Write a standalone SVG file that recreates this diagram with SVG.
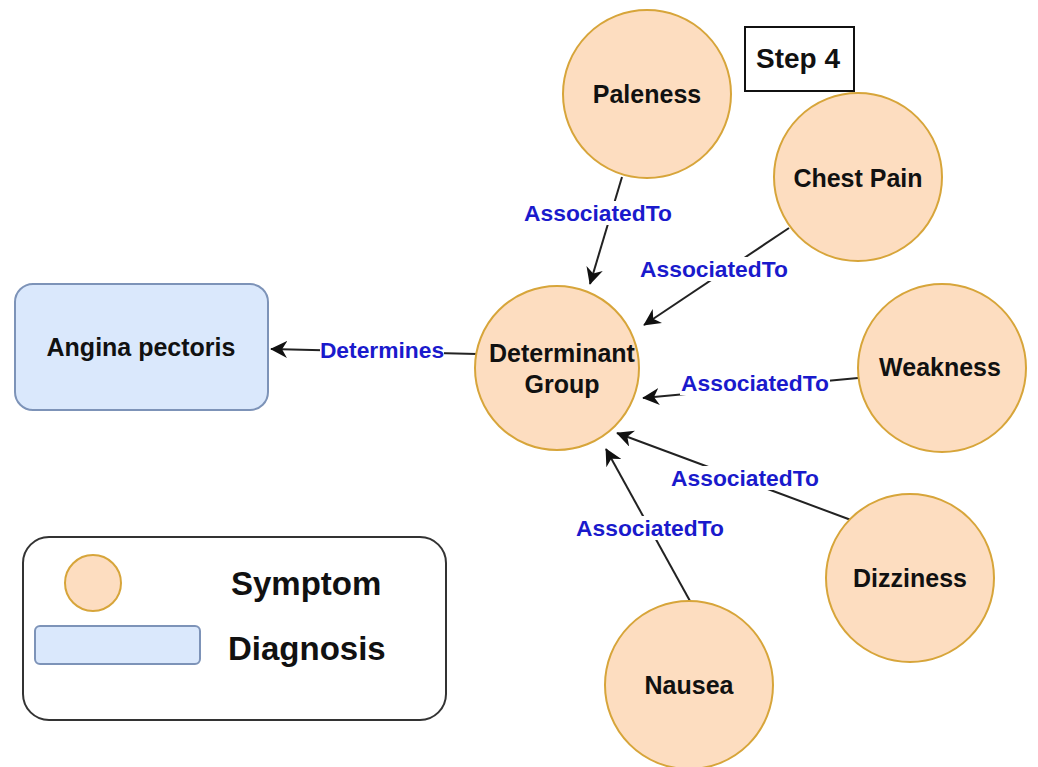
<svg xmlns="http://www.w3.org/2000/svg" width="1038" height="767" viewBox="0 0 1038 767">
  <style>
    .sym { fill: #fdddc0; stroke: #d7a53a; stroke-width: 2; }
    .diag { fill: #dae8fc; stroke: #7d93b8; stroke-width: 2; }
    .node-text { font-family: "Liberation Sans", Arial, sans-serif; font-weight: bold; font-size: 25px; fill: #111; text-anchor: middle; dominant-baseline: central; }
    .edge { stroke: #222; stroke-width: 2; fill: none; marker-end: url(#arrow); }
    .edge-label { font-family: "Liberation Sans", Arial, sans-serif; font-weight: bold; font-size: 22.8px; fill: #1a1acc; text-anchor: middle; dominant-baseline: central; }
    .label-bg { fill: #ffffff; }
    .legend-text { font-family: "Liberation Sans", Arial, sans-serif; font-weight: bold; font-size: 33px; fill: #111; dominant-baseline: central; }
  </style>
  <defs>
    <marker id="arrow" viewBox="0 0 10 10" refX="9.5" refY="5" markerWidth="17" markerHeight="17" markerUnits="userSpaceOnUse" orient="auto">
      <path d="M0,0 L10,5 L0,10 L3,5 z" fill="#111"/>
    </marker>
  </defs>

  <rect width="1038" height="767" fill="#ffffff"/>

  <!-- connectors -->
  <g id="connectors">
    <line class="edge" x1="622" y1="177" x2="590" y2="284"/>
    <line class="edge" x1="789" y1="228" x2="644" y2="325"/>
    <line class="edge" x1="858" y1="378" x2="643" y2="398"/>
    <line class="edge" x1="851" y1="520" x2="617" y2="433"/>
    <line class="edge" x1="690" y1="601" x2="606" y2="449"/>
    <line class="edge" x1="477" y1="354" x2="271" y2="349"/>

    <rect class="label-bg" x="523" y="201" width="150" height="24"/>
    <text class="edge-label" x="598" y="213">AssociatedTo</text>
    <rect class="label-bg" x="639" y="257" width="150" height="24"/>
    <text class="edge-label" x="714" y="269">AssociatedTo</text>
    <rect class="label-bg" x="680" y="371" width="150" height="24"/>
    <text class="edge-label" x="755" y="383">AssociatedTo</text>
    <rect class="label-bg" x="670" y="466" width="150" height="24"/>
    <text class="edge-label" x="745" y="478">AssociatedTo</text>
    <rect class="label-bg" x="575" y="516" width="150" height="24"/>
    <text class="edge-label" x="650" y="528">AssociatedTo</text>
    <rect class="label-bg" x="320" y="338" width="124" height="24"/>
    <text class="edge-label" x="382" y="350">Determines</text>
  </g>

  <!-- symptom nodes -->
  <g id="paleness">
    <circle class="sym" cx="647" cy="94" r="84"/>
    <text class="node-text" x="647" y="94">Paleness</text>
  </g>
  <g id="chest-pain">
    <circle class="sym" cx="858" cy="177" r="84"/>
    <text class="node-text" x="858" y="178">Chest Pain</text>
  </g>
  <g id="weakness">
    <circle class="sym" cx="942" cy="368" r="84"/>
    <text class="node-text" x="940" y="367">Weakness</text>
  </g>
  <g id="dizziness">
    <circle class="sym" cx="910" cy="578" r="84"/>
    <text class="node-text" x="910" y="578">Dizziness</text>
  </g>
  <g id="nausea">
    <circle class="sym" cx="689" cy="685" r="84"/>
    <text class="node-text" x="689" y="685">Nausea</text>
  </g>

  <!-- central group -->
  <g id="determinant-group">
    <circle class="sym" cx="557" cy="368" r="82"/>
    <text class="node-text" x="562" y="353">Determinant</text>
    <text class="node-text" x="562" y="384">Group</text>
  </g>

  <!-- diagnosis -->
  <g id="angina-pectoris">
    <rect class="diag" x="15" y="284" width="253" height="126" rx="18" ry="18"/>
    <text class="node-text" x="141" y="347">Angina pectoris</text>
  </g>

  <!-- step tag -->
  <g id="step-4">
    <rect x="745" y="27" width="109" height="64" fill="#ffffff" stroke="#111" stroke-width="2"/>
    <text class="node-text" x="798" y="58" style="font-size:28px">Step 4</text>
  </g>

  <!-- legend -->
  <g id="legend">
    <rect x="23" y="537" width="423" height="183" rx="26" ry="26" fill="#ffffff" stroke="#333" stroke-width="2"/>
    <circle class="sym" cx="93" cy="583" r="28"/>
    <rect class="diag" x="35" y="626" width="165" height="38" rx="5" ry="5"/>
    <text class="legend-text" x="231" y="583">Symptom</text>
    <text class="legend-text" x="228" y="648">Diagnosis</text>
  </g>
</svg>
